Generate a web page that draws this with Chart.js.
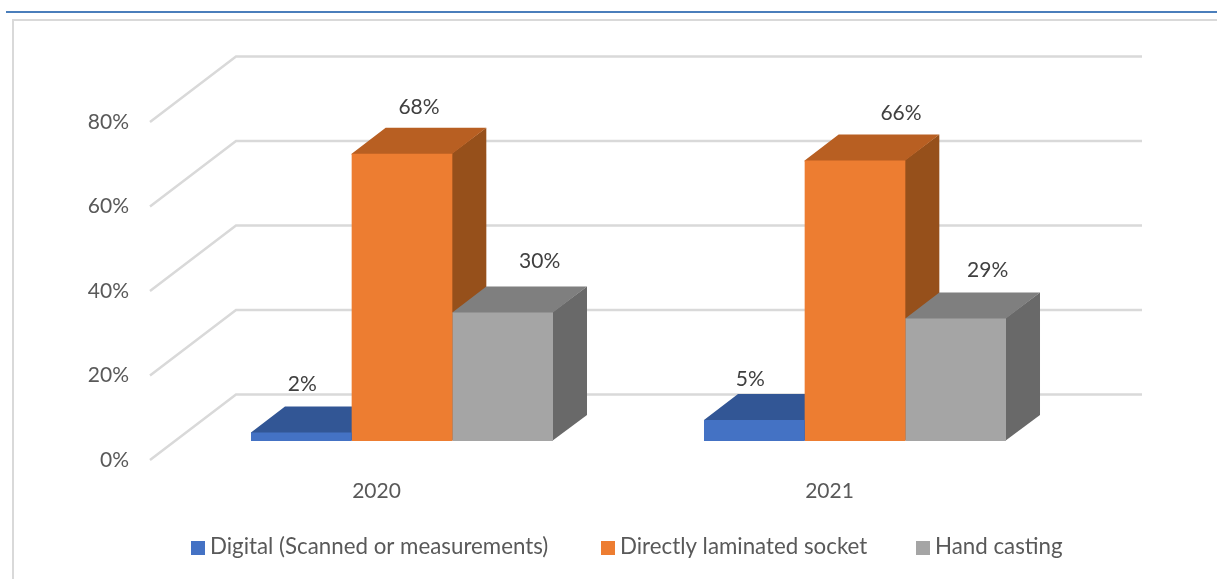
<!DOCTYPE html>
<html lang="en">
<head>
    <meta charset="UTF-8">
    <title>Socket fabrication methods</title>
    <script src="https://cdn.jsdelivr.net/npm/chart.js"></script>
    <style>
        html, body {
            margin: 0;
            background-color: #ffffff;
            overflow: hidden;
        }
        .page {
            position: relative;
            width: 1217px;
            height: 579px;
        }
        .rule {
            position: absolute;
            left: 6px;
            right: 0;
            top: 11px;
            height: 2px;
            background-color: #4a7ebb;
        }
        .frame {
            position: absolute;
            left: 12px;
            top: 19px;
            right: 0;
            bottom: 0;
            border-left: 2px solid #d9d9d9;
            border-top: 2px solid #d9d9d9;
        }
        canvas {
            position: absolute;
            left: 0;
            top: 0;
        }
    </style>
</head>
<body>
    <div class="page">
        <div class="rule"></div>
        <div class="frame"></div>
        <canvas id="socketChart" width="1217" height="579"></canvas>
    </div>

    <script>
        const years = ['2020', '2021'];
        const seriesNames = ['Digital (Scanned or measurements)', 'Directly laminated socket', 'Hand casting'];
        const digital = [2, 5];
        const laminated = [68, 66.4];
        const handCasting = [30.4, 29];
        const yTicks = [0, 20, 40, 60, 80];

        const frontColors = ['#4472c4', '#ed7d31', '#a5a5a5'];
        const topColors = ['#325695', '#b85f22', '#7f7f7f'];
        const sideColors = ['#2b4a80', '#96501b', '#696969'];

        // 3D look: bars sit part way into the floor, wall is at the back
        const wall = { x: 86, y: -65.5 };
        const barShift = { x: 25.5, y: -19 };
        const barDepth = { x: 34, y: -26 };

        // the value labels were dragged by hand in the original, [series][year]
        const labelNudge = [
            [[1, -48], [-4, -41]],
            [[17, -46], [46, -47]],
            [[37, -51], [32, -48]]
        ];

        // legend is drawn by hand, the built-in one can't do the tight box/text gap
        const legendX = [191, 601, 916];
        const legendY = 548;

        function poly(ctx, color, pts) {
            ctx.fillStyle = color;
            ctx.beginPath();
            pts.forEach((p, i) => i ? ctx.lineTo(p[0], p[1]) : ctx.moveTo(p[0], p[1]));
            ctx.closePath();
            ctx.fill();
        }

        const threeD = {
            id: 'threeD',
            beforeDatasetsDraw(chart) {
                const ctx = chart.ctx;
                const area = chart.chartArea;
                const yScale = chart.scales.y;

                // gridlines: side wall then back wall
                ctx.save();
                ctx.strokeStyle = '#d9d9d9';
                ctx.lineWidth = 2.5;
                yTicks.forEach(t => {
                    const y = yScale.getPixelForValue(t);
                    ctx.beginPath();
                    ctx.moveTo(area.left, y);
                    ctx.lineTo(area.left + wall.x, y + wall.y);
                    ctx.lineTo(area.right + wall.x, y + wall.y);
                    ctx.stroke();
                });
                ctx.restore();

                // side and top faces, left to right so later bars cover earlier ones
                // faces run 1px under the front face so no seam shows at the edge
                ctx.save();
                ctx.translate(barShift.x, barShift.y);
                chart.data.datasets.forEach((ds, i) => {
                    chart.getDatasetMeta(i).data.forEach(bar => {
                        const l = bar.x - bar.width / 2;
                        const r = bar.x + bar.width / 2;
                        const dx = barDepth.x, dy = barDepth.y;
                        poly(ctx, sideColors[i], [[r - 1, bar.y], [r + dx, bar.y + dy], [r + dx, bar.base + dy], [r - 1, bar.base]]);
                        poly(ctx, topColors[i], [[l, bar.y + 1], [r, bar.y + 1], [r, bar.y], [r + dx, bar.y + dy], [l + dx, bar.y + dy], [l, bar.y]]);
                    });
                });
                // front faces get drawn by the library inside this translate
            },
            afterDatasetsDraw(chart) {
                const ctx = chart.ctx;
                ctx.restore();

                // value labels
                ctx.save();
                ctx.font = '21px Lato';
                ctx.fillStyle = '#404040';
                ctx.textAlign = 'center';
                ctx.textBaseline = 'middle';
                chart.data.datasets.forEach((ds, i) => {
                    chart.getDatasetMeta(i).data.forEach((bar, j) => {
                        const n = labelNudge[i][j];
                        ctx.fillText(Math.round(ds.data[j]) + '%', bar.x + barShift.x + n[0], bar.y + barShift.y + n[1]);
                    });
                });

                // legend
                ctx.font = '22.3px Lato';
                ctx.textAlign = 'left';
                seriesNames.forEach((name, i) => {
                    ctx.fillStyle = frontColors[i];
                    ctx.fillRect(legendX[i], legendY - 7, 14, 14);
                    ctx.fillStyle = '#595959';
                    ctx.fillText(name, legendX[i] + 19, legendY - 1);
                });
                ctx.restore();
            }
        };

        new Chart(document.getElementById('socketChart').getContext('2d'), {
            type: 'bar',
            data: {
                labels: years,
                datasets: [digital, laminated, handCasting].map((values, i) => ({
                    label: seriesNames[i],
                    data: values,
                    backgroundColor: frontColors[i],
                    borderWidth: 0,
                    clip: false,
                    barPercentage: 1,
                    categoryPercentage: 0.6667
                }))
            },
            options: {
                responsive: false,
                animation: false,
                layout: { padding: { top: 122, right: 161, bottom: 69, left: 0 } },
                plugins: {
                    tooltip: { enabled: false },
                    legend: { display: false }
                },
                scales: {
                    x: {
                        grid: { display: false },
                        border: { display: false },
                        ticks: {
                            font: { family: 'Lato', size: 21 },
                            color: '#595959',
                            padding: 11,
                            maxRotation: 0
                        },
                        afterFit(scale) { scale.height = 50; }
                    },
                    y: {
                        min: 0,
                        max: 80,
                        grid: { display: false, drawTicks: false },
                        border: { display: false },
                        ticks: {
                            stepSize: 20,
                            font: { family: 'Lato', size: 21 },
                            color: '#595959',
                            padding: 21,
                            callback: v => v + '%'
                        },
                        afterFit(scale) { scale.width = 150; }
                    }
                }
            },
            plugins: [threeD]
        });
    </script>
</body>
</html>
